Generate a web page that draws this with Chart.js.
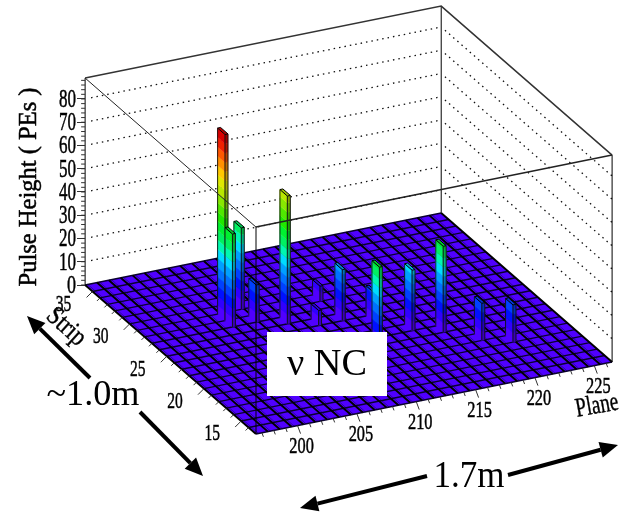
<!DOCTYPE html>
<html>
<head>
<meta charset="utf-8">
<title>Pulse height lego plot</title>
<script src="https://cdn.jsdelivr.net/npm/chart.js@4/dist/chart.umd.min.js"></script>
<style>
  html, body { margin: 0; padding: 0; background: #fff; }
  #wrap { width: 619px; height: 515px; }
</style>
</head>
<body>
<div id="wrap"><canvas id="lego" width="619" height="515"></canvas></div>
<script>
// Hits, one entry per tower
const hitPlanes = [203, 203, 205, 205, 207, 211, 209, 211, 213, 211, 215, 217, 219, 221];
const hitStrips = [28, 27, 29, 27, 26, 28, 25, 25, 24, 20, 22, 21, 19, 18];
const hitPulses = [80, 40, 35, 16, 55, 6.5, 6.5, 22, 13, 37, 26, 37, 16, 16];

const pulseTicks = [0, 10, 20, 30, 40, 50, 60, 70, 80];
const planeTicks = [200, 205, 210, 215, 220, 225];
const stripTicks = [15, 20, 25, 30, 35];

// 20 colour levels, 4 PEs each
const levelColors = [
  "#5000ff", "#3000ff", "#0010ff", "#0040ff", "#0070ff",
  "#00a0ff", "#00dcff", "#00f8b0", "#00f060", "#00f030",
  "#20e800", "#50e800", "#88e800", "#b8e800", "#e0e800",
  "#ffc800", "#ff9000", "#ff5800", "#f02000", "#d80000"
];
const LEVEL_STEP = 4;

// Axis ranges of the box
const PLANE_MIN = 196.5, PLANE_MAX = 226.5;
const STRIP_MIN = 13, STRIP_MAX = 36;
const PULSE_TOP = 89;

// Oblique projection: x in canvas pixels, y in PEs on the upright axis
const FRONT_X = 256, FRONT_Y = -64.09;
const PLANE_DX = 11.87, PLANE_DY = 1.032;
const STRIP_DX = 7.43, STRIP_DY = 2.787;
const PX_PER_PE = 2.325;

function pt(plane, strip, pulse) {
  const u = plane - PLANE_MIN;
  const v = strip - STRIP_MIN;
  return {
    x: FRONT_X + PLANE_DX * u - STRIP_DX * v,
    y: FRONT_Y + PLANE_DY * u + STRIP_DY * v + (pulse || 0)
  };
}

const GAP = { x: NaN, y: NaN };
const datasets = [];

function addLine(data, color, width, dash) {
  datasets.push({
    data,
    showLine: true,
    borderColor: color,
    borderWidth: width,
    borderDash: dash || [],
    pointRadius: 0,
    fill: false
  });
}

function addShape(data, color, edge, edgeWidth) {
  datasets.push({
    data: data.concat([data[0]]),
    showLine: true,
    borderColor: edge || color,
    borderWidth: edgeWidth === undefined ? 0.4 : edgeWidth,
    backgroundColor: color,
    pointRadius: 0,
    fill: "shape"
  });
}

function shade(hex, k) {
  const n = parseInt(hex.slice(1), 16);
  const r = Math.round(((n >> 16) & 255) * k);
  const g = Math.round(((n >> 8) & 255) * k);
  const b = Math.round((n & 255) * k);
  return "rgb(" + r + "," + g + "," + b + ")";
}

// Dotted grid on the two back walls
const wallGrid = [];
const sideGrid = [];
pulseTicks.slice(1).forEach((h) => {
  wallGrid.push(pt(PLANE_MIN + 0.5, STRIP_MAX, h), pt(PLANE_MAX, STRIP_MAX, h), GAP);
  sideGrid.push(pt(PLANE_MAX, STRIP_MAX - 0.5, h), pt(PLANE_MAX, STRIP_MIN, h), GAP);
});
addLine(wallGrid, "#111", 1.3, [1.5, 4]);
addLine(sideGrid, "#111", 1.3, [1.5, 4]);

// Back edges of the box
addLine([pt(PLANE_MIN, STRIP_MAX, 0), pt(PLANE_MIN, STRIP_MAX, PULSE_TOP)], "#000", 1);
addLine([pt(PLANE_MAX, STRIP_MAX, 0), pt(PLANE_MAX, STRIP_MAX, PULSE_TOP)], "#000", 1);
addLine([pt(PLANE_MAX, STRIP_MIN, 0), pt(PLANE_MAX, STRIP_MIN, PULSE_TOP)], "#000", 1);
addLine([
  pt(PLANE_MIN, STRIP_MAX, PULSE_TOP),
  pt(PLANE_MAX, STRIP_MAX, PULSE_TOP),
  pt(PLANE_MAX, STRIP_MIN, PULSE_TOP)
], "#333", 1.5);

// Floor with its cells
addShape([
  pt(PLANE_MIN, STRIP_MIN), pt(PLANE_MAX, STRIP_MIN),
  pt(PLANE_MAX, STRIP_MAX), pt(PLANE_MIN, STRIP_MAX)
], levelColors[0], levelColors[0], 0);
const stripLines = [];
const planeLines = [];
const planeLinesThin = [];
for (let s = STRIP_MIN; s <= STRIP_MAX; s++) {
  stripLines.push(pt(PLANE_MIN, s), pt(PLANE_MAX, s), GAP);
}
for (let p = PLANE_MIN; p <= PLANE_MAX; p++) {
  planeLines.push(pt(p, STRIP_MIN), pt(p, STRIP_MAX), GAP);
  if (p < PLANE_MAX) planeLinesThin.push(pt(p + 0.22, STRIP_MIN), pt(p + 0.22, STRIP_MAX), GAP);
}
addLine(planeLinesThin, "#2a0090", 0.8);
addLine(stripLines, "#0a0030", 1.4);
addLine(planeLines, "#000", 1.9);

// Towers back to front, each face split in colour levels
const towerOrder = hitPlanes
  .map((p, i) => i)
  .sort((a, b) => pt(hitPlanes[b], hitStrips[b]).y - pt(hitPlanes[a], hitStrips[a]).y);

towerOrder.forEach((i) => {
  const p0 = hitPlanes[i] + 0.28;
  const p1 = p0 + 0.25;
  const s0 = hitStrips[i];
  const s1 = s0 + 1;
  const h = hitPulses[i];
  let top = levelColors[0];
  for (let lvl = 0; lvl * LEVEL_STEP < h; lvl++) {
    const lo = lvl * LEVEL_STEP;
    const hi = Math.min(lo + LEVEL_STEP, h);
    top = levelColors[lvl];
    addShape([pt(p0, s1, lo), pt(p0, s0, lo), pt(p0, s0, hi), pt(p0, s1, hi)], top);
    addShape([pt(p0, s0, lo), pt(p1, s0, lo), pt(p1, s0, hi), pt(p0, s0, hi)], shade(top, 0.72));
  }
  addShape([pt(p0, s0, h), pt(p1, s0, h), pt(p1, s1, h), pt(p0, s1, h)], shade(top, 0.85), "#000", 1);
  addLine([
    pt(p0, s1, 0), pt(p0, s1, h), GAP,
    pt(p0, s0, 0), pt(p0, s0, h), GAP,
    pt(p1, s0, 0), pt(p1, s0, h)
  ], "#111", 0.9);
});

// Front edges of the box, these run over the towers
addLine([pt(PLANE_MIN, STRIP_MAX, PULSE_TOP), pt(PLANE_MIN, STRIP_MIN, PULSE_TOP)], "#222", 1);
addLine([pt(PLANE_MIN, STRIP_MIN, PULSE_TOP), pt(PLANE_MAX, STRIP_MIN, PULSE_TOP)], "#222", 1.5);
addLine([pt(PLANE_MIN, STRIP_MIN, 0), pt(PLANE_MIN, STRIP_MIN, PULSE_TOP)], "#000", 1);

// Small ticks on the three axes
const tickMarks = [];
for (let p = 197; p <= 226; p++) {
  const a = pt(p, STRIP_MIN);
  const big = planeTicks.includes(p);
  tickMarks.push(a, { x: a.x + (big ? 3 : 1.5), y: a.y - (big ? 8 : 4) / PX_PER_PE }, GAP);
}
for (let s = 14; s <= 35; s++) {
  const a = pt(PLANE_MIN, s);
  const big = stripTicks.includes(s);
  tickMarks.push(a, { x: a.x - (big ? 6 : 3), y: a.y - (big ? 6 : 3) / PX_PER_PE }, GAP);
}
for (let h = 0; h <= 88; h += 2) {
  const a = pt(PLANE_MIN, STRIP_MAX, h);
  tickMarks.push(a, { x: a.x - 4, y: a.y }, GAP);
}
addLine(tickMarks, "#333", 1);

// Painted in array order, chart.js paints the first dataset last
datasets.reverse();

function putText(ctx, text, cx, cy, size, width, angle, heavy) {
  ctx.save();
  ctx.font = size + "px 'Liberation Serif'";
  ctx.textAlign = "center";
  ctx.textBaseline = "middle";
  ctx.fillStyle = "#000";
  ctx.strokeStyle = "#000";
  ctx.lineWidth = heavy || 0;
  ctx.translate(cx, cy);
  ctx.rotate(((angle || 0) * Math.PI) / 180);
  if (width) ctx.scale(width / ctx.measureText(text).width, 1);
  ctx.fillText(text, 0, 0);
  if (heavy) ctx.strokeText(text, 0, 0);
  ctx.restore();
}

function putArrow(ctx, x0, y0, x1, y1) {
  const a = Math.atan2(y1 - y0, x1 - x0);
  const len = 18, half = 8;
  const bx = x1 - len * Math.cos(a);
  const by = y1 - len * Math.sin(a);
  ctx.save();
  ctx.strokeStyle = "#000";
  ctx.fillStyle = "#000";
  ctx.lineWidth = 4;
  ctx.beginPath();
  ctx.moveTo(x0, y0);
  ctx.lineTo(bx, by);
  ctx.stroke();
  ctx.beginPath();
  ctx.moveTo(x1, y1);
  ctx.lineTo(bx - half * Math.sin(a), by + half * Math.cos(a));
  ctx.lineTo(bx + half * Math.sin(a), by - half * Math.cos(a));
  ctx.closePath();
  ctx.fill();
  ctx.restore();
}

const labelsPlugin = {
  id: "labels",
  afterDraw(chart) {
    const ctx = chart.ctx;
    const xs = chart.scales.x;
    const ys = chart.scales.y;
    const at = (q) => ({ x: xs.getPixelForValue(q.x), y: ys.getPixelForValue(q.y) });

    // Event label box
    ctx.fillStyle = "#fff";
    ctx.fillRect(267, 332, 120, 64);
    putText(ctx, "ν NC", 327, 365, 37, 80);

    ys.ticks.forEach((t) => {
      const a = at(pt(PLANE_MIN, STRIP_MAX, t.value));
      const w = t.value === 0 ? 9 : 17;
      putText(ctx, String(t.value), 76 - w / 2, a.y + 1, 26, w, 0, 0.5);
    });
    planeTicks.forEach((p) => {
      const a = at(pt(p, STRIP_MIN));
      putText(ctx, String(p), a.x + 4, a.y + 21, 23, 24.5, 0, 0.5);
    });
    stripTicks.forEach((s) => {
      const a = at(pt(PLANE_MIN, s));
      putText(ctx, String(s), a.x - 29, a.y + 13, 24, 15.5, 0, 0.5);
    });

    putText(ctx, "Pulse Height ( PEs )", 29, 187, 26, 199, -90, 0.5);
    putText(ctx, "Strip", 66, 327, 27, 44, 42, 0.4);
    putText(ctx, "Plane", 597, 406, 27, 43, -10, 0.4);
    putText(ctx, "~1.0m", 93, 396, 36, 93);
    putText(ctx, "1.7m", 469, 477, 38, 71);

    putArrow(ctx, 90, 378, 27, 316);
    putArrow(ctx, 140, 412, 203, 476);
    putArrow(ctx, 427, 476, 300, 508);
    putArrow(ctx, 508, 475, 618, 445);
  }
};

new Chart(document.getElementById("lego"), {
  type: "scatter",
  data: { datasets },
  plugins: [labelsPlugin],
  options: {
    responsive: false,
    animation: false,
    events: [],
    layout: { padding: 0 },
    plugins: { legend: { display: false }, tooltip: { enabled: false } },
    scales: {
      x: { type: "linear", min: 0, max: 619, display: false },
      y: {
        type: "linear",
        min: -230 / PX_PER_PE,
        max: 285 / PX_PER_PE,
        position: { x: 85 },
        afterBuildTicks(axis) {
          axis.ticks = pulseTicks.map((value) => ({ value }));
        },
        ticks: { display: false },
        border: { display: false },
        grid: { drawOnChartArea: false, drawTicks: true, tickLength: 8, color: "#333" }
      }
    }
  }
});
</script>
</body>
</html>
